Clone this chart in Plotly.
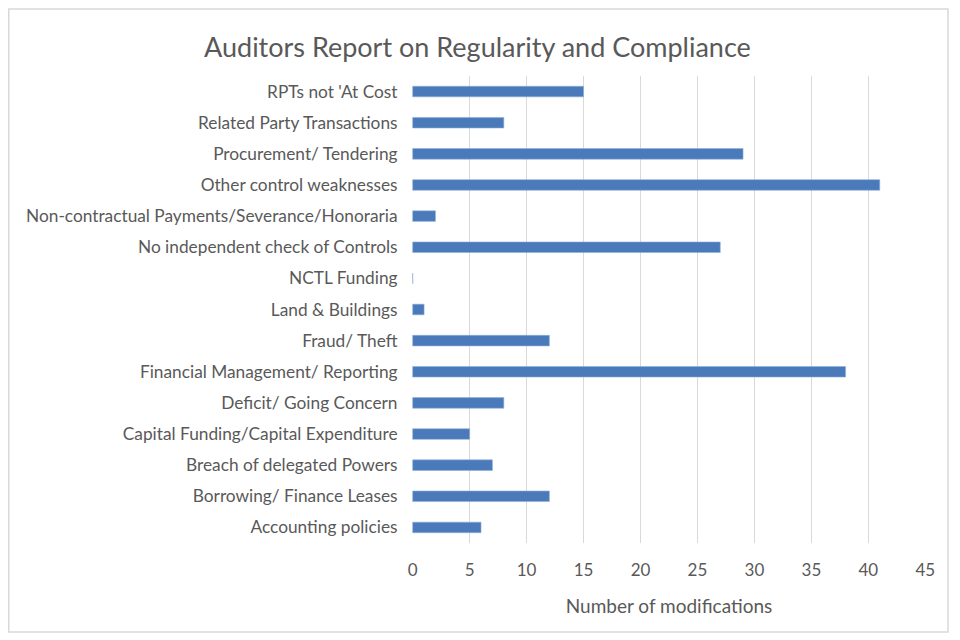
import plotly.graph_objects as go

# ── Data (top to bottom as shown) ─────────────────────────────────────────────
categories = [
    "RPTs not 'At Cost",
    "Related Party Transactions",
    "Procurement/ Tendering",
    "Other control weaknesses",
    "Non-contractual Payments/Severance/Honoraria",
    "No independent check of Controls",
    "NCTL Funding",
    "Land & Buildings",
    "Fraud/ Theft",
    "Financial Management/ Reporting",
    "Deficit/ Going Concern",
    "Capital Funding/Capital Expenditure",
    "Breach of delegated Powers",
    "Borrowing/ Finance Leases",
    "Accounting policies",
]
modifications = [15, 8, 29, 41, 2, 27, 0, 1, 12, 38, 8, 5, 7, 12, 6]
x_ticks = [0, 5, 10, 15, 20, 25, 30, 35, 40, 45]

FONT = "Lato, Carlito, Calibri, sans-serif"
TEXT = "#595959"

# page renders with an 8px offset, so margins are shifted to compensate
fig = go.Figure(
    go.Bar(
        x=modifications,
        y=categories,
        orientation="h",
        width=0.34,
        marker=dict(color="#4a7ab9", line=dict(color="#8fb0dc", width=0.6)),
        showlegend=False,
    )
)

fig.update_layout(
    width=960,
    height=640,
    paper_bgcolor="white",
    plot_bgcolor="white",
    margin=dict(l=404, r=42, t=68, b=105),
    font=dict(family=FONT, size=16, color=TEXT),
    title=dict(
        text="Auditors Report on Regularity and Compliance",
        x=0.489, xanchor="center", y=0.938, yanchor="middle",
        font=dict(family=FONT, size=27, color=TEXT),
    ),
    # chart border
    shapes=[dict(
        type="rect", xref="paper", yref="paper",
        x0=-0.7845, x1=1.0428, y0=-0.1906, y1=1.1435,
        line=dict(color="#d9d9d9", width=1.5),
    )],
)

fig.update_xaxes(
    range=[-0.06, 45.06],
    tickvals=x_ticks,
    showgrid=True, gridcolor="#d9d9d9", gridwidth=1,
    zeroline=False, showline=False,
    ticks="outside", ticklen=12, tickcolor="rgba(0,0,0,0)",
    tickfont=dict(size=17, color=TEXT),
    title=dict(text="Number of modifications", standoff=20,
               font=dict(size=19, color=TEXT)),
)
fig.update_yaxes(
    categoryorder="array", categoryarray=categories[::-1],
    range=[-0.5, 14.5],
    showgrid=False, zeroline=False, showline=False,
    ticks="outside", ticklen=10, tickcolor="rgba(0,0,0,0)",
    tickfont=dict(size=17.3, color=TEXT),
)

fig.write_html("out.html")
